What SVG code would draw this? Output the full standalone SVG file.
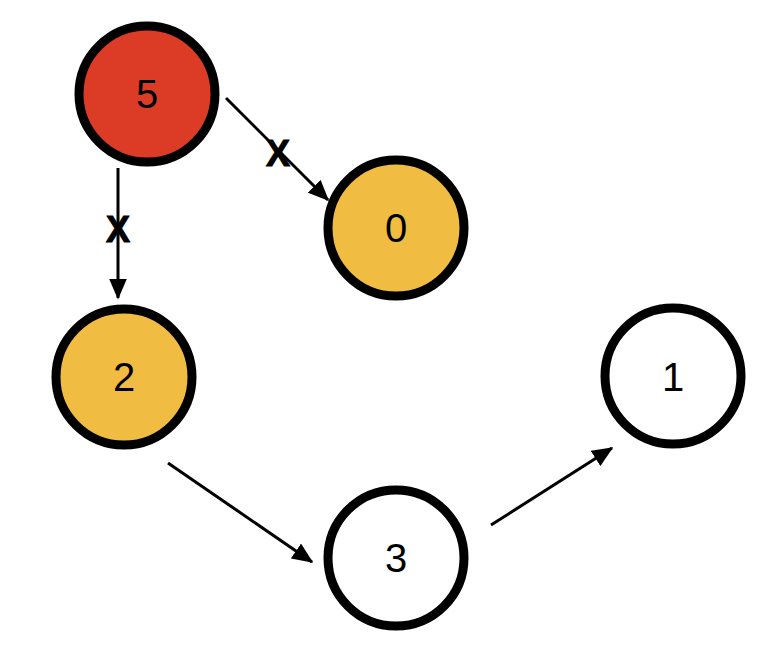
<svg xmlns="http://www.w3.org/2000/svg" width="784" height="646" viewBox="0 0 784 646">
<style>
.n{stroke:#000;stroke-width:9}
.t{font-family:"Liberation Sans",Arial,sans-serif;font-size:40px;text-anchor:middle;fill:#000}
.e{stroke:#000;stroke-width:3;fill:none;marker-end:url(#ah)}
.x{font-family:"Liberation Sans",Arial,sans-serif;font-size:36px;font-weight:bold;text-anchor:middle;fill:#000;stroke:#000;stroke-width:1}
</style>
<defs>
<marker id="ah" markerWidth="7" markerHeight="6" refX="6.5" refY="3" orient="auto" markerUnits="strokeWidth">
<path d="M0,0 L7,3 L0,6 Z" fill="#000"/>
</marker>
</defs>
<rect width="784" height="646" fill="#fff"/>
<g id="connectors">
<line class="e" x1="226" y1="98" x2="328" y2="200"/>
<line class="e" x1="118" y1="168" x2="118" y2="298"/>
<line class="e" x1="168" y1="463" x2="312" y2="562"/>
<line class="e" x1="491" y1="525" x2="612" y2="448"/>
<text class="x" x="278" y="166">X</text>
<text class="x" x="118" y="242">X</text>
</g>
<g id="node5"><circle class="n" cx="147" cy="94" r="68" fill="#DC3B26"/><text class="t" x="147" y="108">5</text></g>
<g id="node0"><circle class="n" cx="396" cy="228" r="68" fill="#F0BC42"/><text class="t" x="396" y="242">0</text></g>
<g id="node2"><circle class="n" cx="124" cy="377" r="68" fill="#F0BC42"/><text class="t" x="124" y="391">2</text></g>
<g id="node1"><circle class="n" cx="673" cy="376" r="68" fill="#fff"/><text class="t" x="673" y="391">1</text></g>
<g id="node3"><circle class="n" cx="396" cy="558" r="68" fill="#fff"/><text class="t" x="396" y="572">3</text></g>
</svg>
